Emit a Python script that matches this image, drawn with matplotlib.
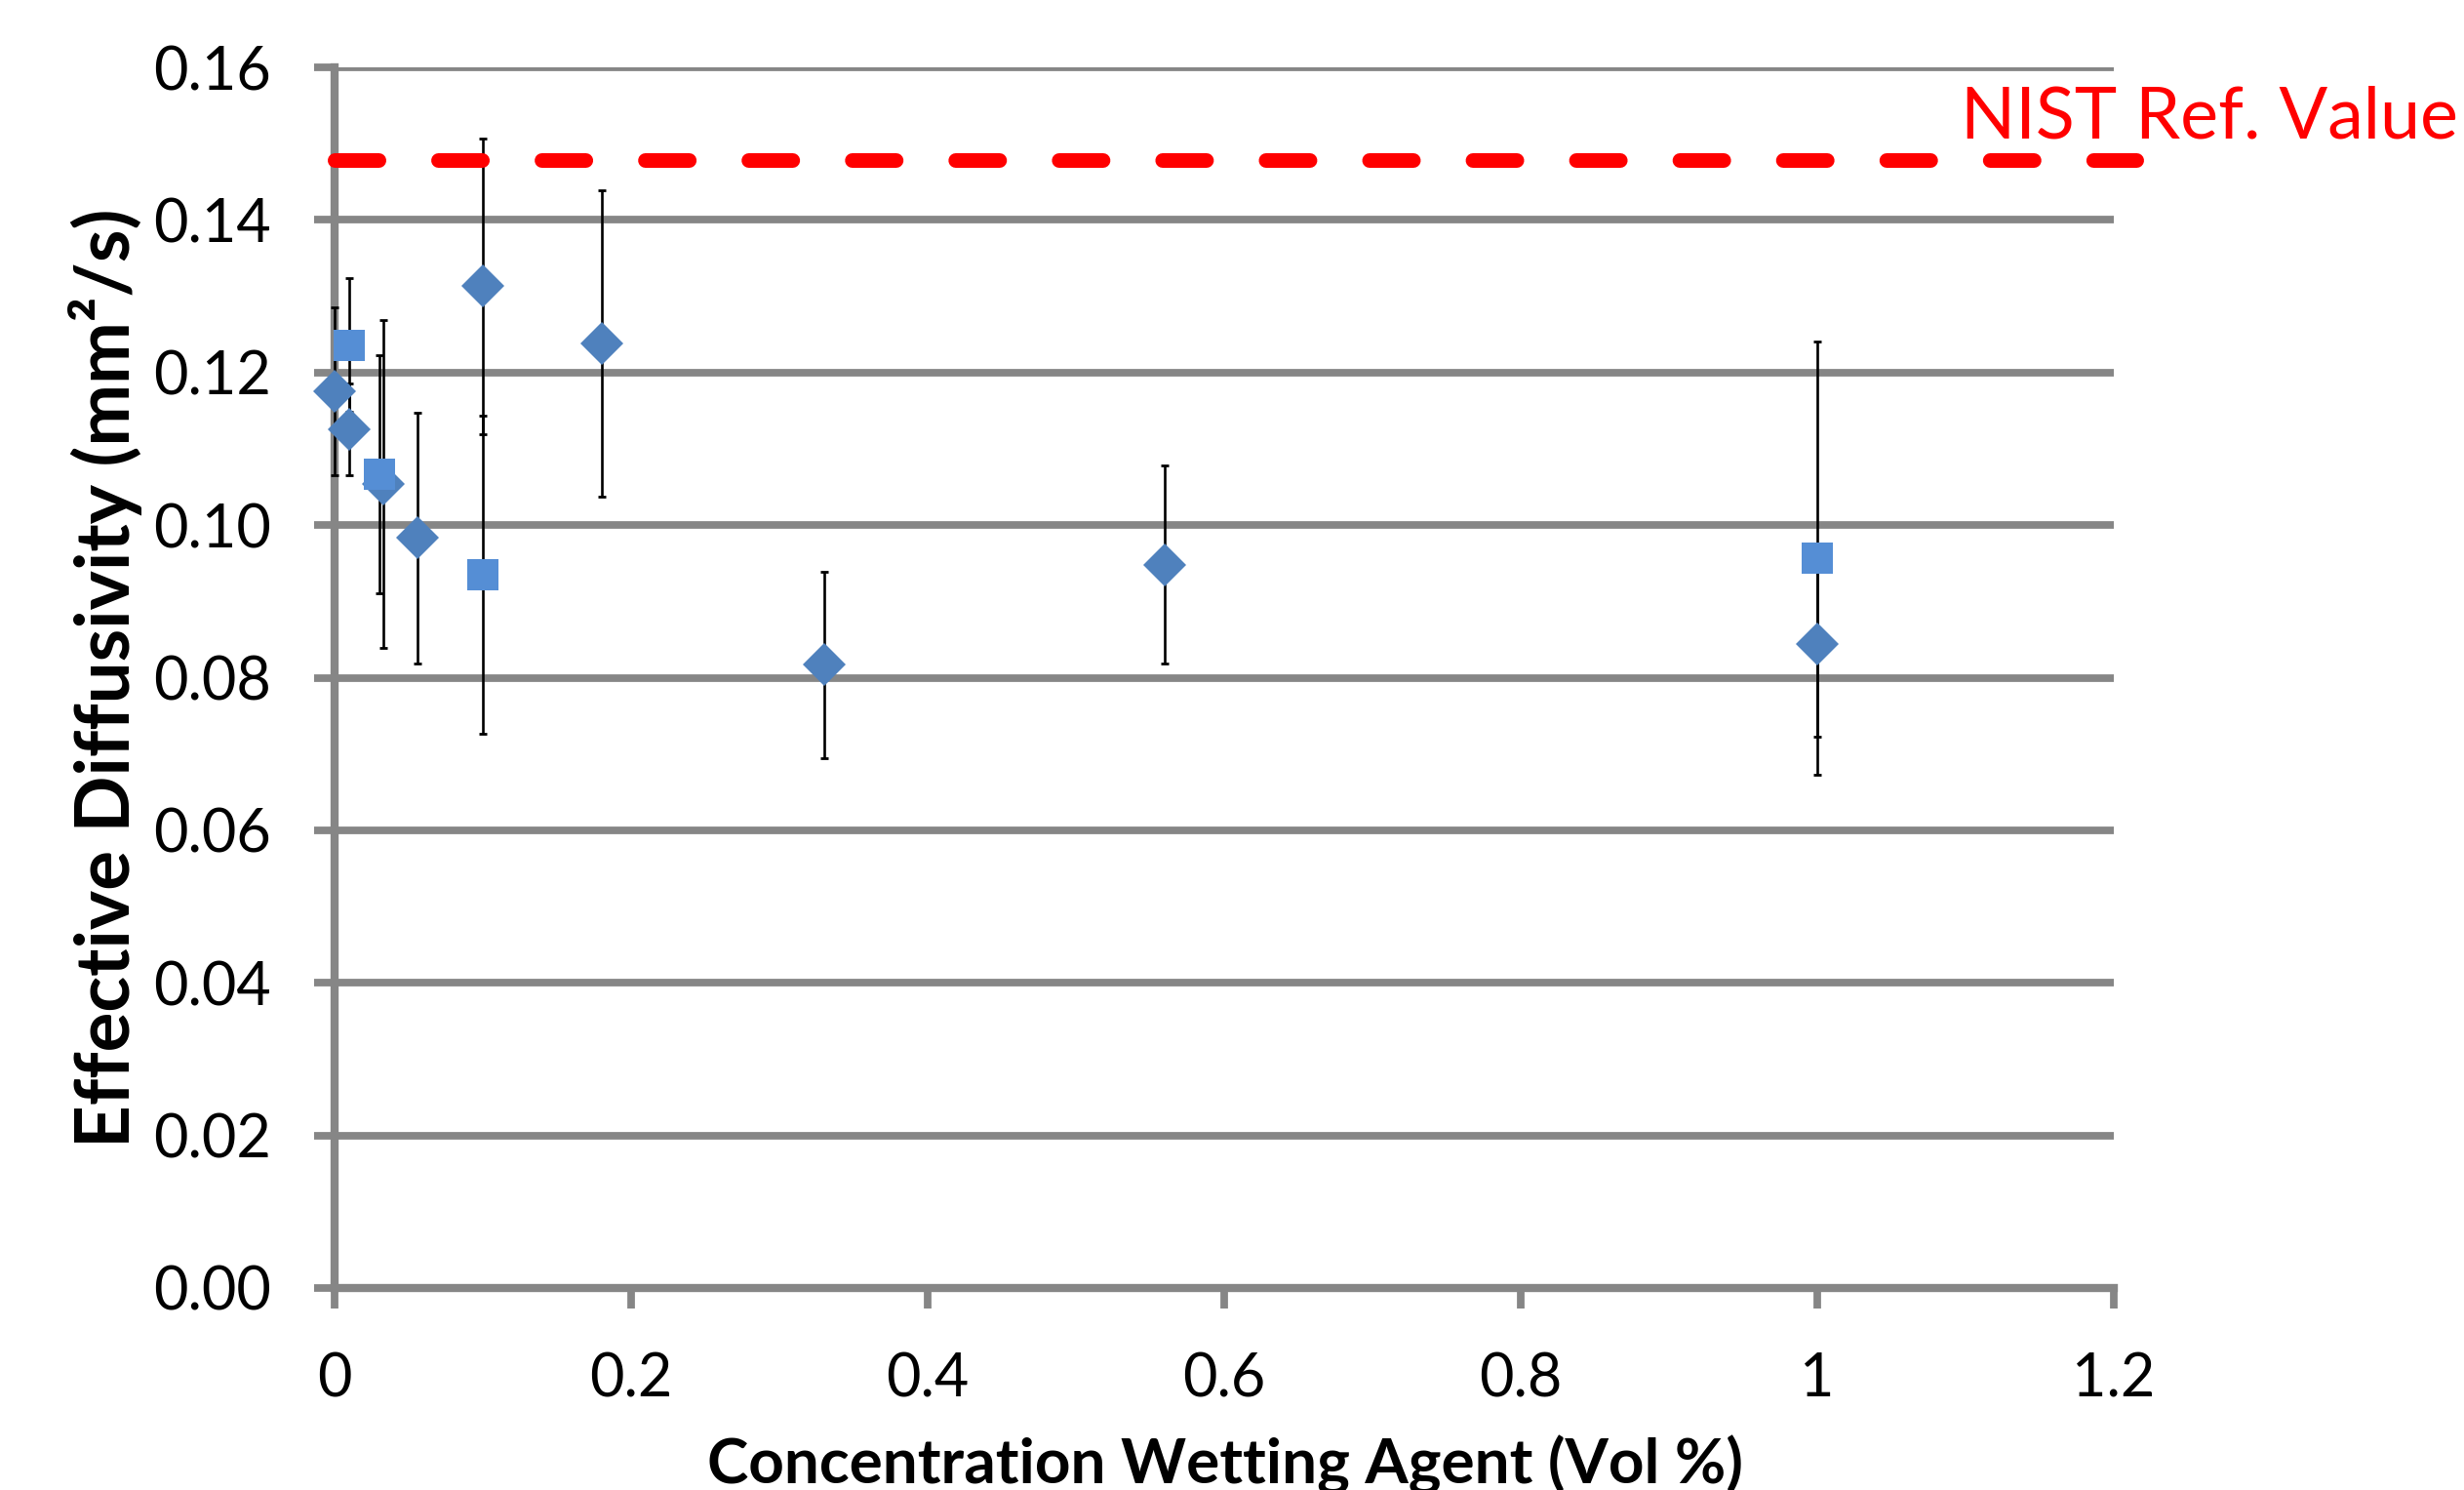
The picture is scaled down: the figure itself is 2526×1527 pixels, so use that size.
import matplotlib
matplotlib.use("Agg")
import matplotlib.pyplot as plt

plt.rcParams['font.family'] = ['Lato', 'DejaVu Sans']

# Series 1 (diamonds)
conc_a = [0.0, 0.01, 0.033, 0.056, 0.1, 0.18, 0.33, 0.56, 1.0]
diff_a = [0.1175, 0.1126, 0.1054, 0.0983, 0.1313, 0.1238, 0.0817, 0.0948, 0.0844]
err_a = [0.011, 0.006, 0.0215, 0.0164, 0.0194, 0.0201, 0.0122, 0.013, 0.0122]

# Series 2 (squares)
conc_b = [0.01, 0.03, 0.1, 1.0]
diff_b = [0.1236, 0.1067, 0.0935, 0.0957]
err_b = [0.0088, 0.0156, 0.0209, 0.0284]

# NIST reference line
nist_x = [0.0, 1.215]
nist_value = 0.1479

x_ticks = [0, 0.2, 0.4, 0.6, 0.8, 1, 1.2]
x_tick_labels = ["0", "0.2", "0.4", "0.6", "0.8", "1", "1.2"]
y_ticks = [0.0, 0.02, 0.04, 0.06, 0.08, 0.10, 0.12, 0.14, 0.16]
y_tick_labels = ["%.2f" % v for v in y_ticks]

grey = "#868686"

fig = plt.figure(figsize=(25.26, 15.27), dpi=100)
ax = fig.add_axes([0.13579, 0.13556, 0.72209, 0.81925])

# error bars first, markers on top
ax.errorbar(conc_a, diff_a, yerr=err_a, fmt='none', ecolor='black',
            elinewidth=1.9, capsize=3.2, capthick=2, zorder=3, clip_on=False)
ax.errorbar(conc_b, diff_b, yerr=err_b, fmt='none', ecolor='black',
            elinewidth=1.9, capsize=3.2, capthick=2, zorder=3, clip_on=False)
ax.plot(conc_a, diff_a, linestyle='none', marker='D', markersize=22.5,
        color='#4F81BD', markeredgewidth=0, zorder=4, clip_on=False)
ax.plot(conc_b, diff_b, linestyle='none', marker='s', markersize=23,
        color='#558ED5', markeredgewidth=0, zorder=5, clip_on=False)

ax.plot(nist_x, [nist_value, nist_value], color='red', linewidth=10.8,
        linestyle=(0, (3.0, 4.07)), dash_capstyle='round', zorder=6, clip_on=False)
ax.text(1.097, 0.1507, "NIST Ref. Value", color='red', fontsize=53,
        va='baseline', ha='left', clip_on=False)

ax.set_xlim(0, 1.2)
ax.set_ylim(0, 0.16)
ax.set_xticks(x_ticks)
ax.set_xticklabels(x_tick_labels)
ax.set_yticks(y_ticks)
ax.set_yticklabels(y_tick_labels)

ax.grid(axis='y', color=grey, linewidth=5.6, zorder=1)
ax.set_axisbelow(True)
for side in ['top', 'right']:
    ax.spines[side].set_visible(False)
for side in ['left', 'bottom']:
    ax.spines[side].set_color(grey)
    ax.spines[side].set_linewidth(6)
ax.tick_params(axis='both', direction='out', length=15, width=5.6, color=grey,
               labelsize=44, pad=32)

ax.set_xlabel("Concentration Wetting Agent (Vol %)", fontsize=46, fontweight='bold')
ax.set_ylabel("Effective Diffusivity (mm²/s)", fontsize=55, fontweight='bold')
ax.xaxis.set_label_coords(0.5005, -0.12)
ax.yaxis.set_label_coords(-0.108, 0.5)

fig.savefig("out.png", dpi=100)
